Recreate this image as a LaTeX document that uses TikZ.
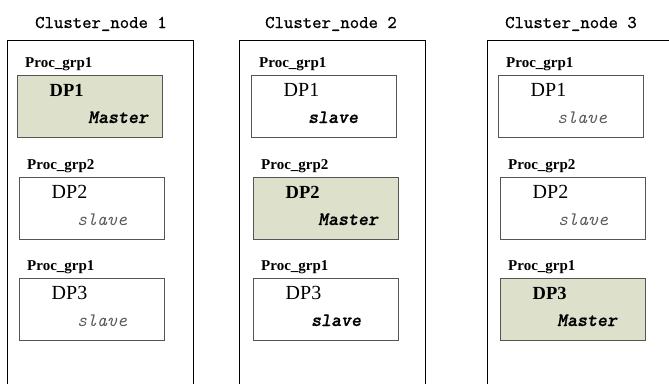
\documentclass[tikz,border=0pt]{standalone}
\usepackage{fontspec}
\setmainfont{Liberation Serif}
\newfontfamily\roleboldfont{lmmonolt10-boldoblique.otf}[FakeBold=0.7]
\newfontfamily\titlefont{lmmono10-regular.otf}[FakeBold=0.6]

\definecolor{masterfill}{HTML}{DDE1CB}
\definecolor{boxline}{HTML}{555555}
\definecolor{slavegrey}{HTML}{5A5A5A}

\tikzset{
  cluster/.style={draw=black, line width=1pt, anchor=north west,
    minimum width=186pt, minimum height=380pt, inner sep=0pt},
  clustertitle/.style={anchor=base west, inner sep=0pt,
    font=\titlefont\fontsize{17.9}{18}\selectfont},
  grplabel/.style={anchor=base west, inner sep=0pt,
    font=\bfseries\fontsize{15}{15}\selectfont},
  pbox/.style={draw=boxline, line width=0.9pt, anchor=north west,
    minimum width=145pt, minimum height=62pt, inner sep=0pt},
  masterbox/.style={pbox, fill=masterfill},
  slavebox/.style={pbox, fill=white},
  txt/.style={anchor=base west, inner sep=0pt},
}
\newcommand\dpmaster[1]{{\bfseries\fontsize{18.5}{18.5}\selectfont #1}}
\newcommand\dpslave[1]{{\fontsize{20}{20}\selectfont #1}}
\newcommand\rolemaster{{\roleboldfont\fontsize{19}{19}\selectfont Master}}
\newcommand\roleslavebold{{\roleboldfont\fontsize{19}{19}\selectfont slave}}
\newcommand\roleslave{{\ttfamily\itshape\fontsize{19}{19}\selectfont\color{slavegrey}slave}}

% #1 name, #2 x, #3 y, #4 group label, #5 box style, #6 DP text,
% #7 role x offset, #8 role text
\newcommand\procgroup[8]{%
  \node[grplabel] (#1l) at (#2+8,#3-8) {#4};
  \node[#5] (#1) at (#2,#3) {};
  \node[txt] (#1d) at (#2+32.5,#3+21.5) {#6};
  \node[txt] (#1r) at (#2+#7,#3+48) {#8};
}

\begin{document}
\begin{tikzpicture}[x=1pt, y=-1pt]
  \useasboundingbox (0,0) rectangle (669,383);
  \clip (0,0) rectangle (669,383);

  % cluster frames, open at the bottom (and on the right for the last one)
  \node[cluster] (cn1) at (7,40) {};
  \node[cluster] (cn2) at (239,40) {};
  \node[cluster, minimum width=200pt] (cn3) at (487,40) {};

  \node[clustertitle] (t1) at (35,28) {Cluster\_node 1};
  \node[clustertitle] (t2) at (265,28) {Cluster\_node 2};
  \node[clustertitle] (t3) at (505,28) {Cluster\_node 3};

  % cluster node 1
  \procgroup{a1}{17}{75}{Proc\_grp1}{masterbox}{\dpmaster{DP1}}{71}{\rolemaster}
  \procgroup{a2}{19}{177}{Proc\_grp2}{slavebox}{\dpslave{DP2}}{58}{\roleslave}
  \procgroup{a3}{19}{278}{Proc\_grp1}{slavebox}{\dpslave{DP3}}{58}{\roleslave}

  % cluster node 2
  \procgroup{b1}{251}{75}{Proc\_grp1}{slavebox}{\dpslave{DP1}}{57}{\roleslavebold}
  \procgroup{b2}{253}{177}{Proc\_grp2}{masterbox}{\dpmaster{DP2}}{65}{\rolemaster}
  \procgroup{b3}{253}{278}{Proc\_grp1}{slavebox}{\dpslave{DP3}}{58}{\roleslavebold}

  % cluster node 3
  \procgroup{c1}{498}{75}{Proc\_grp1}{slavebox}{\dpslave{DP1}}{59}{\roleslave}
  \procgroup{c2}{500}{177}{Proc\_grp2}{slavebox}{\dpslave{DP2}}{58}{\roleslave}
  \procgroup{c3}{500}{278}{Proc\_grp1}{masterbox}{\dpmaster{DP3}}{57}{\rolemaster}
\end{tikzpicture}
\end{document}
